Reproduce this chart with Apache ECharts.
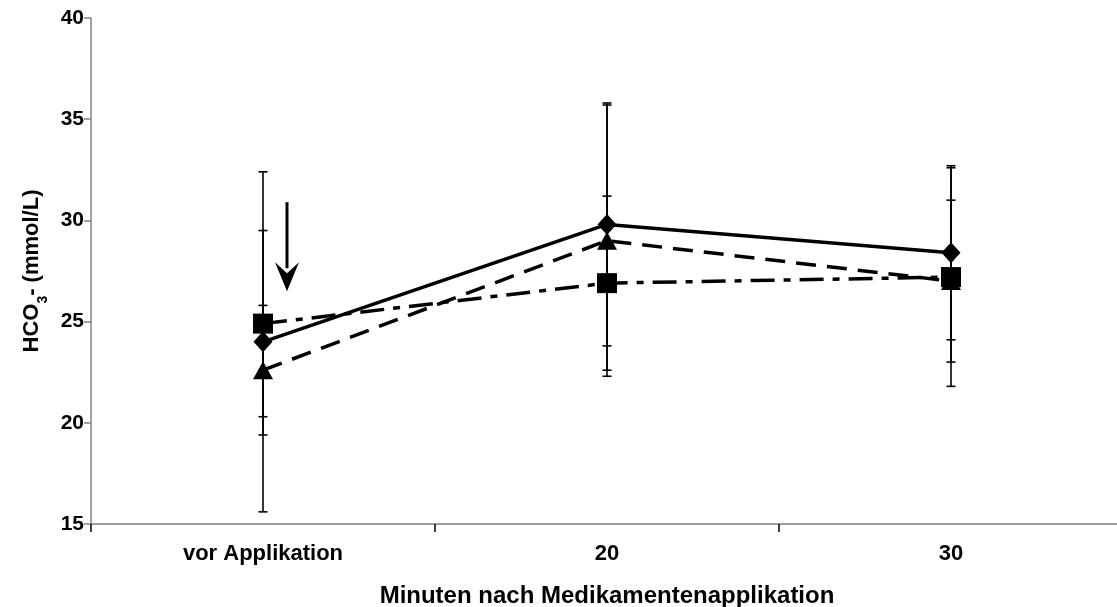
<!DOCTYPE html>
<html>
<head>
<meta charset="utf-8">
<script src="https://cdn.jsdelivr.net/npm/echarts@6/dist/echarts.min.js"></script>
<style>
  html, body { margin: 0; padding: 0; background: #fff; }
  #chart { width: 1117px; height: 607px; }
</style>
</head>
<body>
<div id="chart"></div>
<script>
// Time points
const categories = ['vor Applikation', '20', '30'];
const yTicks = [15, 20, 25, 30, 35, 40];

// HCO3- means and standard deviations per group
const meanDiamond = [24.0, 29.8, 28.4];
const sdDiamond = [8.4, 6.0, 4.3];
const meanTriangle = [22.6, 29.0, 27.0];
const sdTriangle = [3.2, 6.7, 4.0];
const meanSquare = [24.9, 26.9, 27.2];
const sdSquare = [4.6, 4.3, 5.4];

// Arrow marking the time of drug application (from / to value)
const arrowValues = [30.9, 26.5];

const FONT = '"Liberation Sans", Arial, sans-serif';

function errorData(means, sds) {
  return means.map((m, i) => [i, +(m - sds[i]).toFixed(2), +(m + sds[i]).toFixed(2)]);
}

function renderErrorBar(params, api) {
  const x = api.value(0);
  const lo = api.coord([x, api.value(1)]);
  const hi = api.coord([x, api.value(2)]);
  const cap = 4.5;
  const style = { stroke: '#000', lineWidth: 1.6 };
  return {
    type: 'group',
    children: [
      { type: 'line', shape: { x1: lo[0], y1: lo[1], x2: hi[0], y2: hi[1] }, style },
      { type: 'line', shape: { x1: lo[0] - cap, y1: lo[1], x2: lo[0] + cap, y2: lo[1] }, style },
      { type: 'line', shape: { x1: hi[0] - cap, y1: hi[1], x2: hi[0] + cap, y2: hi[1] }, style }
    ]
  };
}

function renderArrow(params, api) {
  const top = api.coord([0, api.value(0)]);
  const tip = api.coord([0, api.value(1)]);
  const x = top[0] + 24;
  const headH = 29, headW = 12;
  return {
    type: 'group',
    children: [
      { type: 'line', shape: { x1: x, y1: top[1], x2: x, y2: tip[1] - headH + 6 },
        style: { stroke: '#000', lineWidth: 3 } },
      { type: 'polygon',
        shape: { points: [[x - headW, tip[1] - headH], [x, tip[1] - headH + 11], [x + headW, tip[1] - headH], [x, tip[1]]] },
        style: { fill: '#000' } }
    ]
  };
}

const chart = echarts.init(document.getElementById('chart'));

chart.setOption({
  animation: false,
  backgroundColor: '#fff',
  grid: { left: 91, top: 18, width: 1032, bottom: 83, containLabel: false, outerBoundsMode: 'none' },
  xAxis: {
    type: 'category',
    data: categories,
    boundaryGap: true,
    name: 'Minuten nach Medikamentenapplikation',
    nameLocation: 'middle',
    nameGap: 60,
    nameTextStyle: { fontFamily: FONT, fontWeight: 'bold', fontSize: 24, color: '#000' },
    axisLine: { lineStyle: { color: '#808080', width: 1.5 } },
    axisTick: { show: true, length: 8, inside: false, lineStyle: { color: '#000', width: 1.5 } },
    axisLabel: { fontFamily: FONT, fontWeight: 'bold', fontSize: 22, color: '#000', margin: 19 },
    splitLine: { show: false }
  },
  yAxis: {
    type: 'value',
    min: yTicks[0],
    max: yTicks[yTicks.length - 1],
    interval: 5,
    name: '{a|HCO}{s|3}{a|- (mmol/L)}',
    nameLocation: 'middle',
    nameGap: 39,
    nameTextStyle: {
      rich: {
        a: { fontFamily: FONT, fontWeight: 'bold', fontSize: 22, color: '#000', lineHeight: 26 },
        s: { fontFamily: FONT, fontWeight: 'bold', fontSize: 14, color: '#000', verticalAlign: 'bottom', lineHeight: 26, padding: [0, 0, -5, 0] }
      }
    },
    axisLine: { show: true, lineStyle: { color: '#808080', width: 1.5 } },
    axisTick: { show: true, length: 7, inside: false, lineStyle: { color: '#808080', width: 1.5 } },
    axisLabel: { fontFamily: FONT, fontWeight: 'bold', fontSize: 21, color: '#000', margin: 7 },
    splitLine: { show: false }
  },
  series: [
    { type: 'custom', renderItem: renderErrorBar, data: errorData(meanDiamond, sdDiamond), z: 1, silent: true },
    { type: 'custom', renderItem: renderErrorBar, data: errorData(meanTriangle, sdTriangle), z: 1, silent: true },
    { type: 'custom', renderItem: renderErrorBar, data: errorData(meanSquare, sdSquare), z: 1, silent: true },
    {
      name: 'Triangle', type: 'line', data: meanTriangle,
      symbol: 'triangle', symbolSize: [20, 18], showSymbol: true,
      itemStyle: { color: '#000' },
      lineStyle: { color: '#000', width: 3.5, type: [20, 11] },
      z: 3
    },
    {
      name: 'Square', type: 'line', data: meanSquare,
      symbol: 'rect', symbolSize: 20,
      itemStyle: { color: '#000' },
      lineStyle: { color: '#000', width: 3.5, type: [24, 9, 7, 9] },
      z: 4
    },
    {
      name: 'Diamond', type: 'line', data: meanDiamond,
      symbol: 'diamond', symbolSize: [19, 21],
      itemStyle: { color: '#000' },
      lineStyle: { color: '#000', width: 3.5, type: 'solid' },
      z: 5
    },
    {
      type: 'custom', renderItem: renderArrow, data: [arrowValues], z: 6, silent: true
    }
  ]
});
</script>
</body>
</html>
